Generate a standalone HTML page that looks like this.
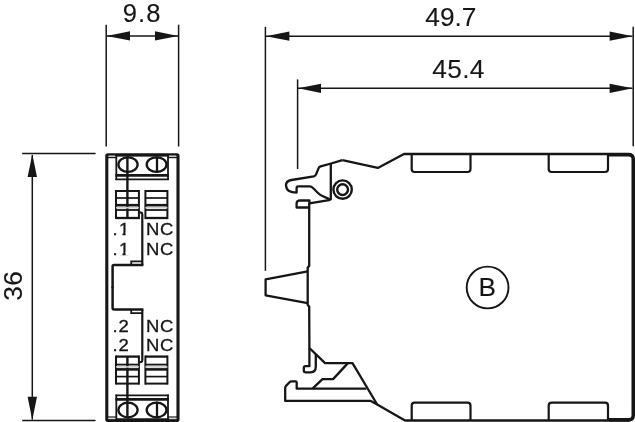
<!DOCTYPE html>
<html lang="en">
<head>
<meta charset="utf-8">
<title>Dimension drawing</title>
<style>
html,body{margin:0;padding:0;background:#fff;}
body{width:635px;height:422px;overflow:hidden;font-family:"Liberation Sans",Arial,sans-serif;}
svg{display:block;will-change:transform;}
</style>
</head>
<body>
<svg width="635" height="422" viewBox="0 0 635 422">
<rect x="0" y="0" width="635" height="422" fill="#ffffff"/>
<line x1="106.2" y1="24.7" x2="106.2" y2="146.5" stroke="#161616" stroke-width="1.5" stroke-linecap="butt"/>
<line x1="178.6" y1="24.7" x2="178.6" y2="146.5" stroke="#161616" stroke-width="1.5" stroke-linecap="butt"/>
<line x1="107" y1="35.9" x2="178" y2="35.9" stroke="#161616" stroke-width="1.5" stroke-linecap="butt"/>
<polygon points="106.6,35.9 130,31.3 130,40.5" fill="#161616"/>
<polygon points="178.2,35.9 155,31.3 155,40.5" fill="#161616"/>
<line x1="22.2" y1="153.6" x2="95.6" y2="153.6" stroke="#161616" stroke-width="1.5" stroke-linecap="butt"/>
<line x1="22.2" y1="420.6" x2="95.6" y2="420.6" stroke="#161616" stroke-width="1.5" stroke-linecap="butt"/>
<line x1="32.3" y1="155" x2="32.3" y2="419.5" stroke="#161616" stroke-width="1.5" stroke-linecap="butt"/>
<polygon points="32.3,154.2 27.6,177 37,177" fill="#161616"/>
<polygon points="32.3,420 27.6,396.8 37,396.8" fill="#161616"/>
<line x1="265.4" y1="26.8" x2="265.4" y2="270.8" stroke="#161616" stroke-width="1.5" stroke-linecap="butt"/>
<line x1="633.2" y1="26.8" x2="633.2" y2="146.3" stroke="#161616" stroke-width="1.5" stroke-linecap="butt"/>
<line x1="266" y1="36.2" x2="632.5" y2="36.2" stroke="#161616" stroke-width="1.5" stroke-linecap="butt"/>
<polygon points="265.9,36.2 289.4,31.6 289.4,40.8" fill="#161616"/>
<polygon points="632.8,36.2 609.6,31.6 609.6,40.8" fill="#161616"/>
<line x1="297.6" y1="79.4" x2="297.6" y2="169" stroke="#161616" stroke-width="1.5" stroke-linecap="butt"/>
<line x1="298" y1="88.3" x2="632.5" y2="88.3" stroke="#161616" stroke-width="1.5" stroke-linecap="butt"/>
<polygon points="298.1,88.3 321,83.7 321,92.9" fill="#161616"/>
<polygon points="632.8,88.3 609.6,83.7 609.6,92.9" fill="#161616"/>
<rect x="106.8" y="154.8" width="71.2" height="265.8" rx="1.2" fill="none" stroke="#161616" stroke-width="3.1"/>
<line x1="108" y1="157.6" x2="116.3" y2="157.6" stroke="#161616" stroke-width="1.2" stroke-linecap="butt"/>
<line x1="168" y1="157.6" x2="177" y2="157.6" stroke="#161616" stroke-width="1.2" stroke-linecap="butt"/>
<line x1="108.6" y1="155.9" x2="115.4" y2="155.9" stroke="#c8c8c8" stroke-width="0.9" stroke-linecap="butt"/>
<line x1="169" y1="155.9" x2="176.2" y2="155.9" stroke="#c8c8c8" stroke-width="0.9" stroke-linecap="butt"/>
<line x1="116.3" y1="154" x2="116.3" y2="180" stroke="#161616" stroke-width="1.8" stroke-linecap="butt"/>
<line x1="168" y1="154" x2="168" y2="180" stroke="#161616" stroke-width="1.8" stroke-linecap="butt"/>
<line x1="115.4" y1="175.3" x2="168.9" y2="175.3" stroke="#161616" stroke-width="2.8" stroke-linecap="butt"/>
<line x1="115.4" y1="179.3" x2="168.9" y2="179.3" stroke="#161616" stroke-width="1.8" stroke-linecap="butt"/>
<line x1="116" y1="155.6" x2="168.5" y2="155.6" stroke="#161616" stroke-width="1.6" stroke-linecap="butt"/>
<ellipse cx="128" cy="164.6" rx="9.6" ry="7.3" fill="none" stroke="#161616" stroke-width="2.3"/>
<ellipse cx="156.6" cy="164.6" rx="9.9" ry="7.3" fill="none" stroke="#161616" stroke-width="2.3"/>
<line x1="127.4" y1="156.5" x2="127.4" y2="218" stroke="#161616" stroke-width="2.4" stroke-linecap="butt"/>
<line x1="157" y1="156.5" x2="157" y2="173" stroke="#161616" stroke-width="2.3" stroke-linecap="butt"/>
<line x1="116" y1="190" x2="116" y2="219.1" stroke="#161616" stroke-width="2" stroke-linecap="butt"/>
<line x1="138.9" y1="190" x2="138.9" y2="219.1" stroke="#161616" stroke-width="2" stroke-linecap="butt"/>
<line x1="116" y1="191" x2="138.9" y2="191" stroke="#161616" stroke-width="2.0" stroke-linecap="butt"/>
<line x1="116" y1="198" x2="138.9" y2="198" stroke="#161616" stroke-width="1.7" stroke-linecap="butt"/>
<line x1="116" y1="205.2" x2="138.9" y2="205.2" stroke="#161616" stroke-width="2.6" stroke-linecap="butt"/>
<line x1="116" y1="207.7" x2="138.9" y2="207.7" stroke="#cfcfcf" stroke-width="1.6" stroke-linecap="butt"/>
<line x1="116" y1="210" x2="138.9" y2="210" stroke="#161616" stroke-width="1.8" stroke-linecap="butt"/>
<line x1="116" y1="218" x2="138.9" y2="218" stroke="#161616" stroke-width="2.3" stroke-linecap="butt"/>
<line x1="145.4" y1="190" x2="145.4" y2="219.1" stroke="#161616" stroke-width="2" stroke-linecap="butt"/>
<line x1="167.4" y1="190" x2="167.4" y2="219.1" stroke="#161616" stroke-width="2" stroke-linecap="butt"/>
<line x1="145.4" y1="191" x2="167.4" y2="191" stroke="#161616" stroke-width="2.0" stroke-linecap="butt"/>
<line x1="145.4" y1="198" x2="167.4" y2="198" stroke="#161616" stroke-width="1.7" stroke-linecap="butt"/>
<line x1="145.4" y1="205.2" x2="167.4" y2="205.2" stroke="#161616" stroke-width="2.6" stroke-linecap="butt"/>
<line x1="145.4" y1="207.7" x2="167.4" y2="207.7" stroke="#cfcfcf" stroke-width="1.6" stroke-linecap="butt"/>
<line x1="145.4" y1="210" x2="167.4" y2="210" stroke="#161616" stroke-width="1.8" stroke-linecap="butt"/>
<line x1="145.4" y1="218" x2="167.4" y2="218" stroke="#161616" stroke-width="2.3" stroke-linecap="butt"/>
<path d="M139.5 212.4 L141.3 212.6 Q142.3 212.8 142.3 214.5 L142.3 265.1" fill="none" stroke="#161616" stroke-width="2.2"/>
<path d="M143.4 265.1 L114 265.1 Q112.6 265.1 112.6 266.5 L112.6 288" fill="none" stroke="#161616" stroke-width="2.5"/>
<path d="M131.2 265 L131.2 261.4 L142.3 261.4" fill="none" stroke="#161616" stroke-width="1.8"/>
<line x1="108" y1="417.0" x2="116.3" y2="417.0" stroke="#161616" stroke-width="1.2" stroke-linecap="butt"/>
<line x1="168" y1="417.0" x2="177" y2="417.0" stroke="#161616" stroke-width="1.2" stroke-linecap="butt"/>
<line x1="108.6" y1="418.7" x2="115.4" y2="418.7" stroke="#c8c8c8" stroke-width="0.9" stroke-linecap="butt"/>
<line x1="169" y1="418.7" x2="176.2" y2="418.7" stroke="#c8c8c8" stroke-width="0.9" stroke-linecap="butt"/>
<line x1="116.3" y1="420.6" x2="116.3" y2="394.6" stroke="#161616" stroke-width="1.8" stroke-linecap="butt"/>
<line x1="168" y1="420.6" x2="168" y2="394.6" stroke="#161616" stroke-width="1.8" stroke-linecap="butt"/>
<line x1="115.4" y1="399.3" x2="168.9" y2="399.3" stroke="#161616" stroke-width="2.8" stroke-linecap="butt"/>
<line x1="115.4" y1="395.3" x2="168.9" y2="395.3" stroke="#161616" stroke-width="1.8" stroke-linecap="butt"/>
<line x1="116" y1="419.0" x2="168.5" y2="419.0" stroke="#161616" stroke-width="1.6" stroke-linecap="butt"/>
<ellipse cx="128" cy="410.0" rx="9.6" ry="7.3" fill="none" stroke="#161616" stroke-width="2.3"/>
<ellipse cx="156.6" cy="410.0" rx="9.9" ry="7.3" fill="none" stroke="#161616" stroke-width="2.3"/>
<line x1="127.4" y1="418.1" x2="127.4" y2="356.6" stroke="#161616" stroke-width="2.4" stroke-linecap="butt"/>
<line x1="157" y1="418.1" x2="157" y2="401.6" stroke="#161616" stroke-width="2.3" stroke-linecap="butt"/>
<line x1="116" y1="384.6" x2="116" y2="355.5" stroke="#161616" stroke-width="2" stroke-linecap="butt"/>
<line x1="138.9" y1="384.6" x2="138.9" y2="355.5" stroke="#161616" stroke-width="2" stroke-linecap="butt"/>
<line x1="116" y1="383.6" x2="138.9" y2="383.6" stroke="#161616" stroke-width="2.0" stroke-linecap="butt"/>
<line x1="116" y1="376.6" x2="138.9" y2="376.6" stroke="#161616" stroke-width="1.7" stroke-linecap="butt"/>
<line x1="116" y1="369.4" x2="138.9" y2="369.4" stroke="#161616" stroke-width="2.6" stroke-linecap="butt"/>
<line x1="116" y1="366.9" x2="138.9" y2="366.9" stroke="#cfcfcf" stroke-width="1.6" stroke-linecap="butt"/>
<line x1="116" y1="364.6" x2="138.9" y2="364.6" stroke="#161616" stroke-width="1.8" stroke-linecap="butt"/>
<line x1="116" y1="356.6" x2="138.9" y2="356.6" stroke="#161616" stroke-width="2.3" stroke-linecap="butt"/>
<line x1="145.4" y1="384.6" x2="145.4" y2="355.5" stroke="#161616" stroke-width="2" stroke-linecap="butt"/>
<line x1="167.4" y1="384.6" x2="167.4" y2="355.5" stroke="#161616" stroke-width="2" stroke-linecap="butt"/>
<line x1="145.4" y1="383.6" x2="167.4" y2="383.6" stroke="#161616" stroke-width="2.0" stroke-linecap="butt"/>
<line x1="145.4" y1="376.6" x2="167.4" y2="376.6" stroke="#161616" stroke-width="1.7" stroke-linecap="butt"/>
<line x1="145.4" y1="369.4" x2="167.4" y2="369.4" stroke="#161616" stroke-width="2.6" stroke-linecap="butt"/>
<line x1="145.4" y1="366.9" x2="167.4" y2="366.9" stroke="#cfcfcf" stroke-width="1.6" stroke-linecap="butt"/>
<line x1="145.4" y1="364.6" x2="167.4" y2="364.6" stroke="#161616" stroke-width="1.8" stroke-linecap="butt"/>
<line x1="145.4" y1="356.6" x2="167.4" y2="356.6" stroke="#161616" stroke-width="2.3" stroke-linecap="butt"/>
<path d="M139.5 362.2 L141.3 362.0 Q142.3 361.8 142.3 360.1 L142.3 309.5" fill="none" stroke="#161616" stroke-width="2.2"/>
<path d="M143.4 309.5 L114 309.5 Q112.6 309.5 112.6 308.1 L112.6 286.6" fill="none" stroke="#161616" stroke-width="2.5"/>
<path d="M131.2 309.6 L131.2 313.2 L142.3 313.2" fill="none" stroke="#161616" stroke-width="1.8"/>
<path d="M342.4 160.2 L377.8 167.9 L404 154 L628.5 154 Q633 154 633 158.5 L633 416 Q633 420.5 628.5 420.5 L405 420.5 L377.2 404.5 L352.5 363.2 L325.1 363.2 L309.4 348 L309.2 306.8 L307.7 304.8 L307.7 267.8 L309.2 265.8 L309.2 203.2" fill="none" stroke="#161616" stroke-width="2.3" stroke-linejoin="round"/>
<path d="M609 154.7 L628.6 154.7 Q633.3 154.7 633.3 159 L633.3 415.6 Q633.3 419.8 628.6 419.8 L609 419.8" fill="none" stroke="#161616" stroke-width="3.4"/>
<path d="M411.7 154 L411.7 169 Q411.7 172 414.7 172 L467.5 172 Q470.5 172 470.5 169 L470.5 154" fill="none" stroke="#161616" stroke-width="2.2"/>
<path d="M548.7 154 L548.7 169 Q548.7 172 551.7 172 L605 172 Q608 172 608 169 L608 154" fill="none" stroke="#161616" stroke-width="2.2"/>
<path d="M411.7 420.5 L411.7 405.7 Q411.7 402.7 414.7 402.7 L467.5 402.7 Q470.5 402.7 470.5 405.7 L470.5 420.5" fill="none" stroke="#161616" stroke-width="2.2"/>
<path d="M548.7 420.5 L548.7 405.7 Q548.7 402.7 551.7 402.7 L605 402.7 Q608 402.7 608 405.7 L608 420.5" fill="none" stroke="#161616" stroke-width="2.2"/>
<circle cx="487.6" cy="287.5" r="20.9" fill="none" stroke="#161616" stroke-width="1.9"/>
<path d="M307.7 271.4 L265.6 279.4 L265.6 295.3 L307.7 303.2" fill="none" stroke="#161616" stroke-width="2.3" stroke-linejoin="round"/>
<path d="M342.4 160.2 L331.1 163.5 L320.6 166.4 Q319 167 318.4 168.6 L316.2 174.2 Q315.6 175.8 313.8 176.3 L291.5 180 Q286 181 286 185 Q286 189 289 191 Q291.5 192.6 296.6 192.6 L296.6 188 Q296.6 186.4 298.2 186.4 L309.5 186.4 Q311.5 186.4 313 188 L318 193 Q320 195 323 196.2 L330.4 199.6" fill="none" stroke="#161616" stroke-width="2.3" stroke-linejoin="round"/>
<line x1="330.8" y1="163.6" x2="330.8" y2="200.2" stroke="#161616" stroke-width="2.3" stroke-linecap="butt"/>
<path d="M330.4 199.8 L309.4 203.3 L309.4 200.5 L300.5 200.3 Q296.6 200.3 296.6 203.6 L296.6 207.5 L309.2 207.5" fill="none" stroke="#161616" stroke-width="2.3" stroke-linejoin="round"/>
<circle cx="342.6" cy="189.6" r="9.2" fill="none" stroke="#161616" stroke-width="2.4"/>
<circle cx="342.6" cy="189.6" r="5.4" fill="none" stroke="#161616" stroke-width="2.4"/>
<path d="M309.4 348 L309.4 366.2 L305.6 366.2 Q303.8 366.2 303.8 368 L303.8 370.4 Q303.8 372.3 305.8 372.3 L310.5 372.3 Q315.8 372.3 315.8 366.5 L315.8 354.2" fill="none" stroke="#161616" stroke-width="2.3" stroke-linejoin="round"/>
<path d="M347.7 363.4 L333.1 379.1 L322.5 379.1 L312.5 388.6" fill="none" stroke="#161616" stroke-width="2.3" stroke-linejoin="round"/>
<path d="M366.4 388.7 L296.7 388.7 L296.7 382.6 Q296.7 381.4 295.4 381.4 L291.6 381.4 Q290.4 381.4 289.5 382.3 L286 385.9 Q285.2 386.8 285.2 388 L285.2 400.9 L370.8 400.9 L377.2 404.5" fill="none" stroke="#161616" stroke-width="2.3" stroke-linejoin="round"/>
<text x="142.1" y="21.55" font-size="25.6" text-anchor="middle" fill="#161616" stroke="#161616" stroke-width="0.1" font-family="'Liberation Sans', Arial, sans-serif" letter-spacing="1.0">9.8</text>
<text x="450.9" y="25.5" font-size="26.3" text-anchor="middle" fill="#161616" stroke="#161616" stroke-width="0.1" font-family="'Liberation Sans', Arial, sans-serif" >49.7</text>
<text x="458.5" y="77.5" font-size="26.3" text-anchor="middle" fill="#161616" stroke="#161616" stroke-width="0.1" font-family="'Liberation Sans', Arial, sans-serif" letter-spacing="0.3">45.4</text>
<text transform="translate(22.2,285.8) rotate(-90)" font-size="26.2" letter-spacing="0.5" text-anchor="middle" fill="#161616" stroke="#161616" stroke-width="0.1" font-family="'Liberation Sans', Arial, sans-serif">36</text>
<text x="487.2" y="295.6" font-size="26.2" text-anchor="middle" fill="#161616" stroke="#161616" stroke-width="0.1" font-family="'Liberation Sans', Arial, sans-serif" >B</text>
<text transform="translate(112.4,235.4) scale(1.07,1)" font-size="17.3" letter-spacing="1.4" fill="#161616" stroke="#161616" stroke-width="0.3" font-family="'Liberation Sans', Arial, sans-serif">.1</text>
<rect x="118.6" y="232.6" width="3.9" height="3.6" fill="#fff"/>
<rect x="125.6" y="232.6" width="4" height="3.6" fill="#fff"/>
<text transform="translate(146.1,235.4) scale(1.07,1)" font-size="17.3" letter-spacing="0.4" fill="#161616" stroke="#161616" stroke-width="0.3" font-family="'Liberation Sans', Arial, sans-serif">NC</text>
<text transform="translate(112.4,254.7) scale(1.07,1)" font-size="17.3" letter-spacing="1.4" fill="#161616" stroke="#161616" stroke-width="0.3" font-family="'Liberation Sans', Arial, sans-serif">.1</text>
<rect x="118.6" y="251.9" width="3.9" height="3.6" fill="#fff"/>
<rect x="125.6" y="251.9" width="4" height="3.6" fill="#fff"/>
<text transform="translate(146.1,254.7) scale(1.07,1)" font-size="17.3" letter-spacing="0.4" fill="#161616" stroke="#161616" stroke-width="0.3" font-family="'Liberation Sans', Arial, sans-serif">NC</text>
<text transform="translate(112.4,332.3) scale(1.07,1)" font-size="17.3" letter-spacing="0.86" fill="#161616" stroke="#161616" stroke-width="0.3" font-family="'Liberation Sans', Arial, sans-serif">.2</text>
<text transform="translate(146.1,332.3) scale(1.07,1)" font-size="17.3" letter-spacing="0.4" fill="#161616" stroke="#161616" stroke-width="0.3" font-family="'Liberation Sans', Arial, sans-serif">NC</text>
<text transform="translate(112.4,351.3) scale(1.07,1)" font-size="17.3" letter-spacing="0.86" fill="#161616" stroke="#161616" stroke-width="0.3" font-family="'Liberation Sans', Arial, sans-serif">.2</text>
<text transform="translate(146.1,351.3) scale(1.07,1)" font-size="17.3" letter-spacing="0.4" fill="#161616" stroke="#161616" stroke-width="0.3" font-family="'Liberation Sans', Arial, sans-serif">NC</text>
</svg>
</body>
</html>
